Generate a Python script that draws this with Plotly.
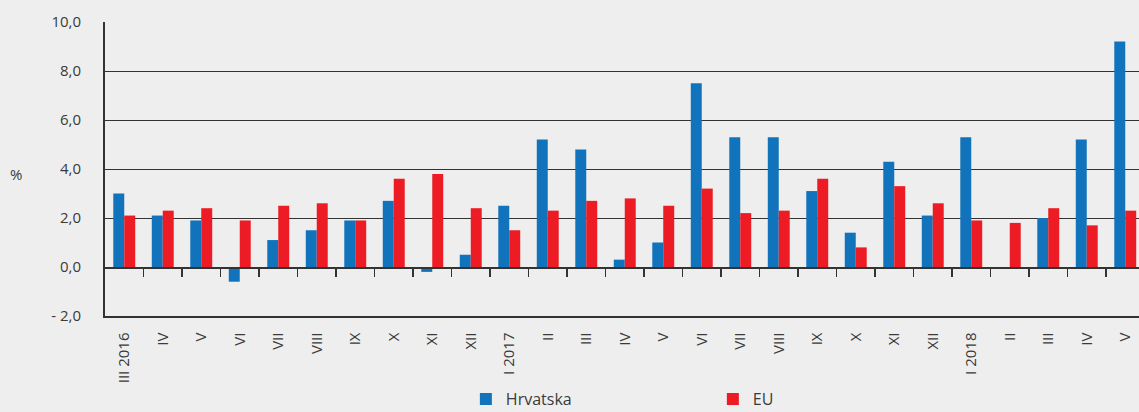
import plotly.graph_objects as go

categories = ["III 2016", "IV", "V", "VI", "VII", "VIII", "IX", "X", "XI", "XII",
              "I 2017", "II", "III", "IV", "V", "VI", "VII", "VIII", "IX", "X", "XI", "XII",
              "I 2018", "II", "III", "IV", "V"]
hrvatska = [3.0, 2.1, 1.9, -0.6, 1.1, 1.5, 1.9, 2.7, -0.2, 0.5,
            2.5, 5.2, 4.8, 0.3, 1.0, 7.5, 5.3, 5.3, 3.1, 1.4, 4.3, 2.1,
            5.3, 0.0, 2.0, 5.2, 9.2]
eu = [2.1, 2.3, 2.4, 1.9, 2.5, 2.6, 1.9, 3.6, 3.8, 2.4,
      1.5, 2.3, 2.7, 2.8, 2.5, 3.2, 2.2, 2.3, 3.6, 0.8, 3.3, 2.6,
      1.9, 1.8, 2.4, 1.7, 2.3]
y_ticks = [-2, 0, 2, 4, 6, 8, 10]
y_ticktext = ["- 2,0", "0,0", "2,0", "4,0", "6,0", "8,0", "10,0"]

FONT = "Open Sans"
TXT = "#3a3a3a"
BG = "#eeeeee"
LINE = "#333333"

x = list(range(len(categories)))
fig = go.Figure()
fig.add_trace(go.Bar(x=x, y=hrvatska, name="Hrvatska", marker_color="#1173bb",
                     marker_line=dict(width=0)))
fig.add_trace(go.Bar(x=x, y=eu, name="EU", marker_color="#ed1c24",
                     marker_line=dict(width=0)))

n = len(categories)
xr = [-0.5, -0.5 + 1034 / 38.5]

fig.update_layout(
    width=1139, height=412,
    margin=dict(l=105, r=0, t=22, b=96, autoexpand=False),
    paper_bgcolor=BG, plot_bgcolor=BG,
    barmode="group", bargap=0.43, bargroupgap=0,
    font=dict(family=FONT, color=TXT, size=14),
    showlegend=True,
    legend=dict(orientation="h", x=0.349, xanchor="left", y=-0.225, yanchor="top",
                font=dict(size=16, color=TXT), entrywidth=202, entrywidthmode="pixels",
                bgcolor="rgba(0,0,0,0)", itemwidth=30),
    xaxis=dict(range=xr, tickvals=x, ticktext=categories, tickangle=-90,
               showgrid=False, zeroline=False, showline=True, linecolor=LINE, linewidth=1.5,
               ticks="", tickfont=dict(size=15, color=TXT), ticklabelstandoff=9),
    xaxis2=dict(range=xr, overlaying="x", anchor="free", position=1/6,
                tickvals=[i + 0.5 for i in range(n - 1)], showticklabels=False,
                ticks="outside", ticklen=8, tickcolor=LINE, tickwidth=1.2,
                showgrid=False, zeroline=False, showline=True, linecolor=LINE, linewidth=1.5),
    yaxis=dict(range=[-2, 10], tickvals=y_ticks, ticktext=y_ticktext,
               showgrid=True, gridcolor=LINE, gridwidth=1, zeroline=False,
               showline=True, linecolor=LINE, linewidth=2, ticks="",
               tickfont=dict(size=15, color=TXT), ticklabelstandoff=19),
    annotations=[dict(text="%", xref="paper", yref="y", x=-(105 - 16) / 1034, y=3.8,
                      showarrow=False, xanchor="center", yanchor="middle",
                      font=dict(size=15, color=TXT))],
)
fig.add_trace(go.Scatter(x=[0], y=[0], xaxis="x2", mode="markers",
                         marker=dict(opacity=0), showlegend=False, hoverinfo="skip"))

css_js = (
    "var s=document.createElement('style');"
    "s.textContent='html,body{margin:0!important;padding:0!important;overflow:hidden!important;"
    "background:#eeeeee!important;}';"
    "document.head.appendChild(s);"
)
fig.write_html("out.html", config={"displayModeBar": False, "staticPlot": True},
               post_script=css_js)
